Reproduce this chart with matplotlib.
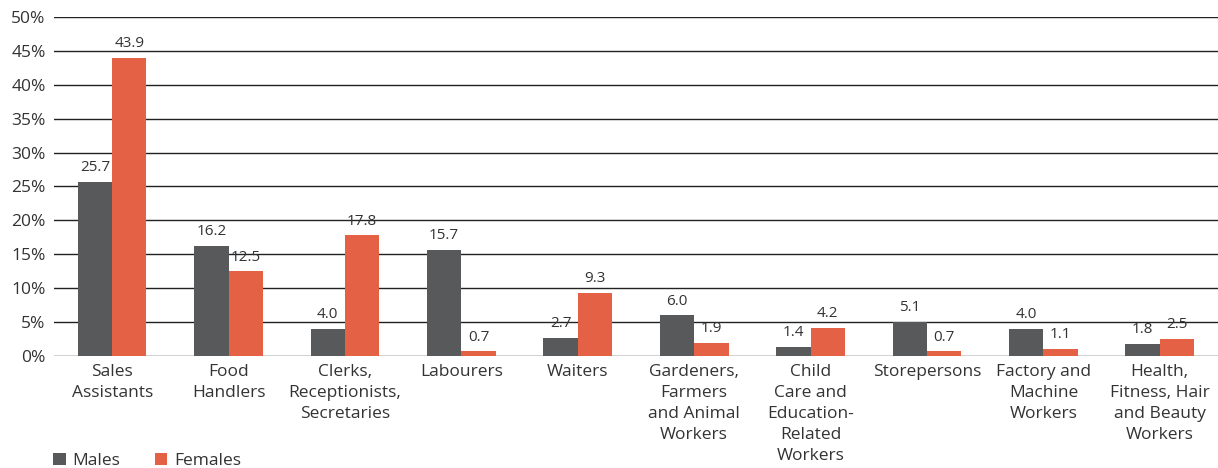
import numpy as np
import matplotlib.pyplot as plt

categories = ['Sales\nAssistants', 'Food\nHandlers', 'Clerks,\nReceptionists,\nSecretaries',
              'Labourers', 'Waiters', 'Gardeners,\nFarmers\nand Animal\nWorkers',
              'Child\nCare and\nEducation-\nRelated\nWorkers', 'Storepersons',
              'Factory and\nMachine\nWorkers', 'Health,\nFitness, Hair\nand Beauty\nWorkers']
males = [25.7, 16.2, 4.0, 15.7, 2.7, 6.0, 1.4, 5.1, 4.0, 1.8]
females = [43.9, 12.5, 17.8, 0.7, 9.3, 1.9, 4.2, 0.7, 1.1, 2.5]
yticks = [0, 5, 10, 15, 20, 25, 30, 35, 40, 45, 50]

plt.rcParams['font.family'] = ['Open Sans', 'DejaVu Sans']

fig = plt.figure(figsize=(12.18, 4.68), dpi=100)
ax = fig.add_axes([0.0443, 0.239, 0.9557, 0.725])

x = np.arange(len(categories))
w = 0.295
b1 = ax.bar(x - w / 2, males, w, color='#58595B', label='Males', zorder=3)
b2 = ax.bar(x + w / 2, females, w, color='#E56146', label='Females', zorder=3)

for bars, vals in ((b1, males), (b2, females)):
    for bar, v in zip(bars, vals):
        ax.text(bar.get_x() + bar.get_width() / 2, v + 1.0, f'{v:.1f}',
                ha='center', va='bottom', fontsize=11, color='#333333')

ax.set_xlim(-0.5, len(categories) - 0.5)
ax.set_ylim(0, 50)
ax.set_yticks(yticks)
ax.set_yticklabels([f'{t}%' for t in yticks], fontsize=12.5, color='#333333')
ax.set_xticks(x)
ax.set_xticklabels(categories, fontsize=12.5, color='#333333', linespacing=1.4, va='top')
ax.tick_params(length=0, pad=6)
ax.tick_params(axis='x', pad=6)
ax.grid(axis='y', color='#222222', linewidth=1.0, zorder=0)
for s in ax.spines.values():
    s.set_visible(False)

fig.legend(handles=[b1, b2], loc='lower left', bbox_to_anchor=(0.031, -0.036), ncol=2,
           frameon=False, fontsize=12.5, handlelength=0.7, handleheight=0.7,
           columnspacing=2.0, handletextpad=0.4, labelcolor='#333333')

fig.savefig('out.png', dpi=100)
